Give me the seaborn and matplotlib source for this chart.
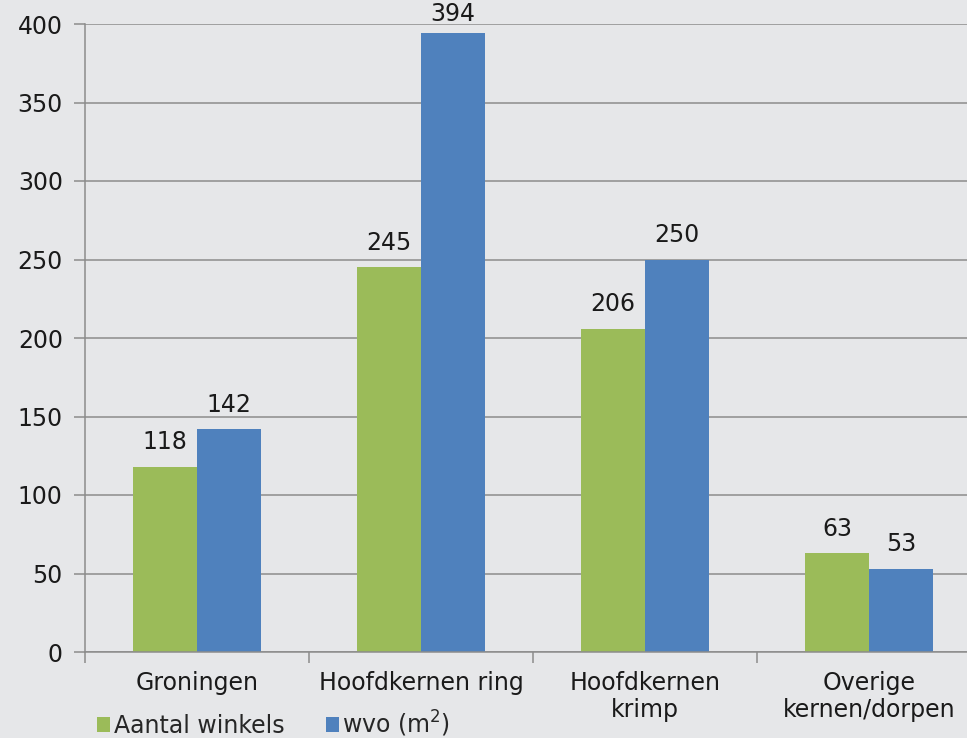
import matplotlib
matplotlib.use("Agg")
import matplotlib.pyplot as plt
import seaborn as sns
import pandas as pd

categories = ["Groningen", "Hoofdkernen ring", "Hoofdkernen\nkrimp", "Overige\nkernen/dorpen"]
series_names = ["Aantal winkels", "wvo (m$^2$)"]
aantal_winkels = [118, 245, 206, 63]
wvo = [142, 394, 250, 53]
yticks = [0, 50, 100, 150, 200, 250, 300, 350, 400]

bg = "#E6E7E9"
colors = ["#9BBB59", "#4F81BD"]
fs = 17

sns.set_theme(style="white")
plt.rcParams["font.family"] = ["DejaVu Sans"]

df = pd.DataFrame({
    "cat": categories * 2,
    "serie": [series_names[0]] * 4 + [series_names[1]] * 4,
    "val": aantal_winkels + wvo,
})

fig = plt.figure(figsize=(9.67, 7.38), dpi=100, facecolor=bg)
ax = fig.add_axes([85/967, 1 - 652/738, (967-85)/967, (652-24)/738])
ax.set_facecolor(bg)

sns.barplot(data=df, x="cat", y="val", hue="serie", order=categories,
            hue_order=series_names, palette=colors, width=0.571,
            saturation=1, ax=ax, legend=False, linewidth=0)

ax.set_ylim(0, 400)
ax.set_xlim(-0.5, 3.4375)
ax.set_yticks(yticks)
ax.set_yticklabels([str(t) for t in yticks], fontsize=fs, color="#1a1a1a")
ax.yaxis.grid(True, color="#8c8c8c", linewidth=1.1)
ax.set_axisbelow(True)
ax.set_xlabel("")
ax.set_ylabel("")

ax.set_xticks([-0.5, 0.5, 1.5, 2.5])
ax.set_xticklabels([])
ax.set_xticks(range(len(categories)), minor=True)
ax.set_xticklabels(categories, minor=True, fontsize=fs, color="#1a1a1a", linespacing=1.15)
ax.tick_params(axis="x", which="major", length=8, width=1.1, color="#8c8c8c", direction="out", bottom=True)
ax.tick_params(axis="x", which="minor", length=0, pad=14)
ax.tick_params(axis="y", length=8, width=1.1, color="#8c8c8c", direction="out", left=True, pad=8)

for s in ["top", "right"]:
    ax.spines[s].set_visible(False)
for s in ["left", "bottom"]:
    ax.spines[s].set_color("#8c8c8c")
    ax.spines[s].set_linewidth(1.1)

ymax = ax.get_ylim()[1]
for cont in ax.containers:
    for bar in cont:
        h = bar.get_height()
        pad = 9 if h < ymax * 0.95 else 5
        ax.annotate(f"{h:.0f}", (bar.get_x() + bar.get_width() / 2, h),
                    xytext=(0, pad), textcoords="offset points",
                    ha="center", va="bottom", fontsize=fs, color="#1a1a1a",
                    annotation_clip=False)

# legend
from matplotlib.patches import Patch
handles = [Patch(facecolor=c, edgecolor="none") for c in colors]
fig.legend(handles, series_names, loc="lower left", bbox_to_anchor=(76/967, -22/738),
           ncol=2, frameon=False, fontsize=fs, handlelength=0.55, handleheight=0.55,
           handletextpad=0.15, columnspacing=1.75)

fig.savefig("out.png", dpi=100, facecolor=bg)
